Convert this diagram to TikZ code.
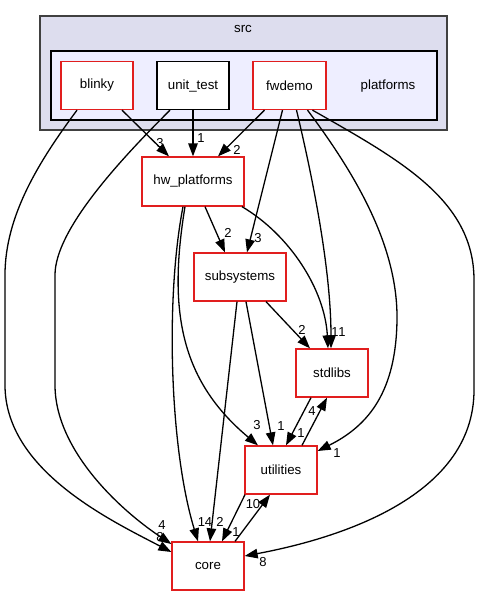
\documentclass[tikz,border=0pt]{standalone}
\usepackage{fontspec}
\setmainfont{Liberation Sans}
\usetikzlibrary{arrows.meta,calc}
\definecolor{srcfill}{HTML}{DDDDEE}
\definecolor{platfill}{HTML}{EEEEFF}
\definecolor{srcborder}{HTML}{404040}
\definecolor{dirred}{RGB}{225,30,30}
\begin{document}
\begin{tikzpicture}[x=1pt,y=-1pt,
  dirbox/.style={draw=dirred,fill=white,line width=1.3pt,minimum width=72pt,minimum height=48pt,inner sep=0pt,font=\fontsize{13.3}{16}\selectfont},
  plainbox/.style={dirbox,draw=black},
  lbl/.style={inner sep=0pt,font=\fontsize{13}{15}\selectfont},
  cltitle/.style={inner sep=0pt,font=\fontsize{13.3}{16}\selectfont},
  dep/.style={draw=black,line width=1.3pt,-{Triangle[length=13pt,width=9.5pt]}},
]
\useasboundingbox (0,0) rectangle (480,595);
% clusters
\node[draw=srcborder,fill=srcfill,line width=1.3pt,minimum width=407pt,minimum height=114pt,inner sep=0pt] (srccl) at (243.5,73) {};
\node[draw=black,fill=platfill,line width=1.3pt,minimum width=386pt,minimum height=69pt,inner sep=0pt] (platcl) at (244,85.5) {};
\node[cltitle] (srct) at (243,29) {src};
\node[cltitle] (platt) at (388,86) {platforms};
% nodes
\node[dirbox] (blinky) at (97,85.5) {blinky};
\node[plainbox] (unittest) at (193,85.5) {unit\_test};
\node[dirbox,minimum width=73pt] (fwdemo) at (289.5,85.5) {fwdemo};
\node[dirbox,minimum width=102pt,minimum height=49pt] (hw) at (193,181.5) {hw\_platforms};
\node[dirbox,minimum width=92pt] (subs) at (240,277) {subsystems};
\node[dirbox] (std) at (332,373) {stdlibs};
\node[dirbox] (util) at (281,470) {utilities};
\node[dirbox] (core) at (208,566) {core};
% edges
\draw[dep] ($(blinky.south)+(25,0)$) -- ($(hw.north)+(-24,0)$);
\draw[dep] ($(blinky.south)+(-20,0)$) .. controls (40,160) and (5,215) .. (5,275) -- (5,385) .. controls (5,470) and (110,520) .. ($(core.west)+(0,-14)$);
\draw[dep] ($(unittest.south)+(-23,0)$) .. controls (120,160) and (55,230) .. (55,275) -- (55,385) .. controls (55,450) and (120,510) .. ($(core.west)+(0,-22)$);
\draw[dep] (unittest.south) -- (hw.north);
\draw[dep] ($(fwdemo.south)+(-25,0)$) -- ($(hw.north)+(25,0)$);
\draw[dep] ($(fwdemo.south)+(-7,0)$) -- ($(subs.north)+(7,0)$);
\draw[dep] ($(fwdemo.south)+(7,0)$) .. controls (318,200) and (331,280) .. ($(std.north)+(-1,0)$);
\draw[dep] ($(hw.south)+(49,0)$) .. controls (290,235) and (325,290) .. ($(std.north)+(-4,0)$);
\draw[dep] ($(fwdemo.south)+(18,0)$) .. controls (360,180) and (398,250) .. (397,320) .. controls (396,390) and (370,425) .. ($(util.east)+(0,-19)$);
\draw[dep] ($(fwdemo.south)+(23,0)$) .. controls (400,160) and (474,200) .. (474,280) -- (474,390) .. controls (474,500) and (330,540) .. ($(core.east)+(0,-10)$);
\draw[dep] ($(hw.south)+(12,0)$) -- ($(subs.north)+(-15,0)$);
\draw[dep] ($(hw.south)+(-8,0)$) .. controls (168,310) and (180,380) .. ($(util.north)+(-23,0)$);
\draw[dep] ($(hw.south)+(-10,0)$) .. controls (165,300) and (170,450) .. ($(core.north)+(-10,0)$);
\draw[dep] ($(subs.south)+(26,0)$) -- ($(std.north)+(-22,0)$);
\draw[dep] ($(subs.south)+(6,0)$) -- ($(util.north)+(-8,0)$);
\draw[dep] ($(subs.south)+(-3,0)$) -- ($(core.north)+(2,0)$);
\draw[dep] ($(std.south)+(-21,0)$) -- ($(util.north)+(5,0)$);
\draw[dep] ($(util.north)+(21,0)$) -- ($(std.south)+(-5,0)$);
\draw[dep] ($(util.south)+(-36,0)$) -- ($(core.north)+(14,0)$);
\draw[dep] ($(core.north)+(27,0)$) -- ($(util.south)+(-11,0)$);
% labels
\node[lbl] (l1) at (160,143) {3};
\node[lbl] (l2) at (160,537) {8};
\node[lbl] (l3) at (162,525) {4};
\node[lbl] (l4) at (201,138) {1};
\node[lbl] (l5) at (237,150) {2};
\node[lbl] (l6) at (258,238) {3};
\node[lbl] (l7) at (342,332) {1};
\node[lbl] (l8) at (335,332) {1};
\node[lbl] (l9) at (337,453) {1};
\node[lbl] (l10) at (263,562) {8};
\node[lbl] (l11) at (228,233) {2};
\node[lbl] (l12) at (257,425) {3};
\node[lbl] (l13) at (205,522) {14};
\node[lbl] (l14) at (302,330) {2};
\node[lbl] (l15) at (281,426) {1};
\node[lbl] (l16) at (220,522) {2};
\node[lbl] (l17) at (301,433) {1};
\node[lbl] (l18) at (312,411) {4};
\node[lbl] (l19) at (236,532) {1};
\node[lbl] (l20) at (253,504) {10};
\end{tikzpicture}
\end{document}
